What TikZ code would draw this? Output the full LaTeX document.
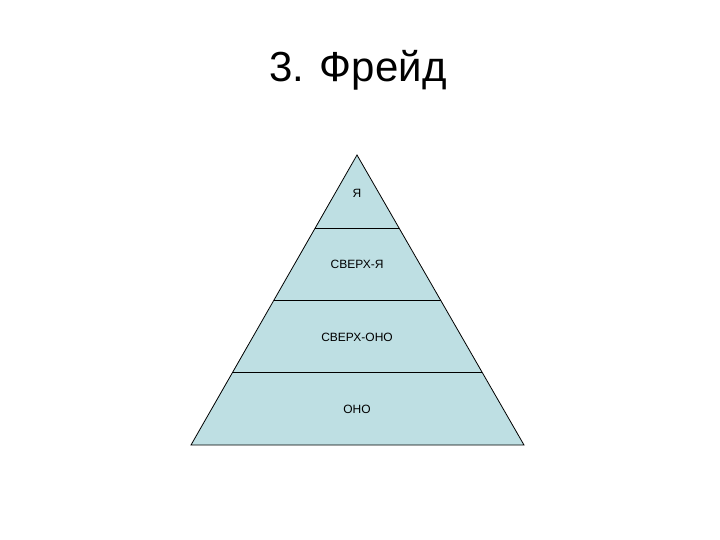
\documentclass[tikz,border=0pt]{standalone}
\usepackage{fontspec}
\setmainfont{Liberation Sans}
\definecolor{pyrfill}{RGB}{190,223,227}
\begin{document}
\begin{tikzpicture}[x=1pt,y=-1pt,
  lvl/.style={font=\fontsize{12}{14}\selectfont, inner sep=0pt, anchor=base},
  title/.style={font=\fontsize{42}{48}\selectfont, inner sep=0pt, anchor=base}]
\useasboundingbox (0,0) rectangle (720,540);
\coordinate (apex) at (357,155);
\coordinate (bl) at (191,445);
\coordinate (br) at (524,445);
\filldraw[fill=pyrfill, draw=black, line width=0.8pt, line join=miter] (apex) -- (br) -- (bl) -- cycle;
\draw[line width=0.8pt] (315,228) -- (399,228);
\draw[line width=0.8pt] (274,300) -- (441,300);
\draw[line width=0.8pt] (232,372) -- (482,372);
\node[title] (t) at (358,82) {3. Фрейд};
\node[lvl] (ya) at (357,197) {Я};
\node[lvl] (sya) at (357,268) {СВЕРХ-Я};
\node[lvl] (sono) at (357,341) {СВЕРХ-ОНО};
\node[lvl] (ono) at (357,413) {ОНО};
\end{tikzpicture}
\end{document}
